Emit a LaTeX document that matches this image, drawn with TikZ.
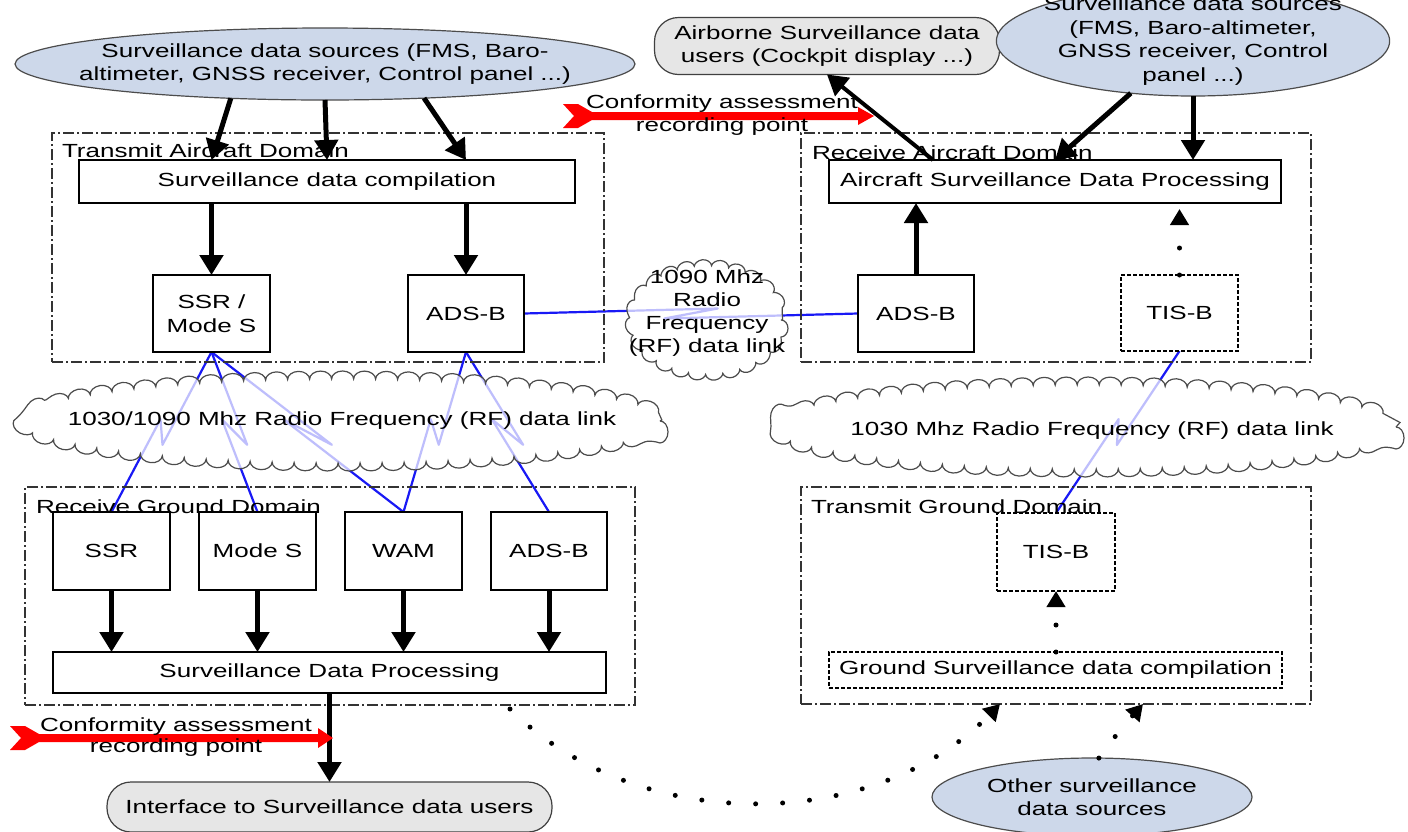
\documentclass[tikz,border=0pt]{standalone}
\usepackage{fontspec}
\setmainfont{Liberation Sans}[FakeStretch=1.37]
\usepackage{xcolor}
\usetikzlibrary{arrows.meta,shapes,calc,positioning,decorations.pathmorphing}
\definecolor{srcblue}{RGB}{205,216,234}
\definecolor{usergray}{RGB}{230,230,230}
\definecolor{rfblue}{RGB}{25,25,245}
\definecolor{confred}{RGB}{255,0,0}
\pgfdeclarelayer{bg}
\pgfsetlayers{bg,main}

\begin{document}
\begin{tikzpicture}[x=1pt, y=-1pt]
		\tikzstyle{every node}=[font=\fontsize{19}{23.5}\selectfont, inner sep=0pt, outer sep=0pt]
		\tikzstyle{blk}=[draw, line width=1.5pt, fill=white, align=center, minimum width=117pt, minimum height=77pt]
		\tikzstyle{dashblk}=[blk, dash pattern=on 4pt off 2pt]
		\tikzstyle{domainbox}=[draw=black!80, line width=1.5pt, dash pattern=on 11pt off 3pt on 2pt off 3pt]
		\tikzstyle{srcell}=[ellipse, draw=black!70, line width=1.2pt, fill=srcblue, align=center]
		\tikzstyle{usrbox}=[draw=black!75, line width=1.2pt, fill=usergray, rounded corners=24pt, align=center]
		\tikzstyle{rfcloud}=[draw=black!70, line width=1.2pt, fill=white, fill opacity=.72, decorate, decoration={bumps, segment length=44pt, amplitude=8pt}]
		\tikzstyle{rfline}=[draw=rfblue, line width=2.2pt, line join=round]
		\tikzstyle{bigarrow}=[line width=5pt, -{Triangle[width=23pt,length=20pt]}]
		\tikzstyle{dotarrow}=[line width=5pt, line cap=round, dash pattern=on 0pt off 27pt, -{Triangle[width=18pt,length=16pt]}]
		\clip (0,0) rectangle (1408,831);
		% sources and users
		\node [srcell, minimum width=620pt, minimum height=72pt, inner xsep=-28pt] (srcL) at (325,64) {Surveillance data sources (FMS, Baro-\\altimeter, GNSS receiver, Control panel ...)};
		\node [usrbox, minimum width=345pt, minimum height=57pt] (users) at (827,46) {Airborne Surveillance data\\users (Cockpit display ...)};
		\node [srcell, minimum width=385pt, minimum height=110pt, inner xsep=-10pt, inner ysep=-7pt] (srcR) at (1193,41) {Surveillance data sources\\(FMS, Baro-altimeter,\\GNSS receiver, Control\\panel ...)};
		% domains
		\node [domainbox, minimum width=552pt, minimum height=229pt] (txAir) at (328,247.5) {};
		\node [anchor=west] (txAirLbl) at (62,151) {Transmit Aircraft Domain};
		\node [domainbox, minimum width=510pt, minimum height=229pt] (rxAir) at (1056,247.5) {};
		\node [anchor=west] (rxAirLbl) at (812,153) {Receive Aircraft Domain};
		\node [domainbox, minimum width=610pt, minimum height=218pt] (rxGnd) at (330,596) {};
		\node [anchor=west] (rxGndLbl) at (36,507) {Receive Ground Domain};
		\node [domainbox, minimum width=510pt, minimum height=217pt] (txGnd) at (1056,595.5) {};
		\node [anchor=west] (txGndLbl) at (811,507) {Transmit Ground Domain};
		% transmit aircraft
		\node [blk, minimum width=496pt, minimum height=43pt] (comp) at (327,181.5) {Surveillance data compilation};
		\node [blk] (ssrA) at (211.5,313.5) {SSR /\\Mode S};
		\node [blk, minimum width=116pt] (adsA) at (466,313.5) {ADS-B};
		% receive aircraft
		\node [blk, minimum width=452pt, minimum height=43pt] (asdp) at (1055,181.5) {Aircraft Surveillance Data Processing};
		\node [blk, minimum width=116pt] (adsR) at (916,313.5) {ADS-B};
		\node [dashblk, minimum height=76pt] (tisR) at (1179.5,313) {TIS-B};
		% receive ground
		\node [blk, minimum height=78pt] (ssrG) at (111.5,551) {SSR};
		\node [blk, minimum height=78pt, right=29pt of ssrG] (modeS) {Mode S};
		\node [blk, minimum height=78pt, right=29pt of modeS] (wam) {WAM};
		\node [blk, minimum height=78pt, minimum width=116pt, right=29pt of wam] (adsG) {ADS-B};
		\node [blk, minimum width=553pt, minimum height=41pt] (sdp) at (329.5,672.5) {Surveillance Data Processing};
		% transmit ground
		\node [dashblk, minimum width=118pt, minimum height=78pt] (tisG) at (1056,552) {TIS-B};
		\node [dashblk, minimum width=453pt, minimum height=36pt] (gsdc) at (1055.5,670) {Ground Surveillance data compilation};
		\node [usrbox, minimum width=445pt, minimum height=50pt] (iface) at (329.5,807) {Interface to Surveillance data users};
		\node [srcell, minimum width=320pt, minimum height=78pt] (other) at (1092,797) {Other surveillance\\data sources};
		% radio links
		\draw [rfcloud] (342,421) ellipse [x radius=318, y radius=42];
		\node (rfL) at (342,421) {1030/1090 Mhz Radio Frequency (RF) data link};
		\draw [rfcloud, decoration={segment length=34pt, amplitude=7pt}] (707,320) ellipse [x radius=74, y radius=53];
		\node [align=center, font=\fontsize{19}{23}\selectfont] (rfM) at (707,313) {1090 Mhz\\Radio\\Frequency\\(RF) data link};
		\draw [rfcloud] (1086,427) ellipse [x radius=310, y radius=42];
		\node (rfR) at (1092,431) {1030 Mhz Radio Frequency (RF) data link};
		\begin{pgfonlayer}{bg}
		\fill [white] (0,0) rectangle (1408,831);
		\draw [rfline] (ssrA.south) -- ($(ssrA.south)!.58!(ssrG.north)+(9,0)$) -- ($(ssrA.south)!.42!(ssrG.north)+(-9,0)$) -- (ssrG.north);
		\draw [rfline] (ssrA.south) -- ($(ssrA.south)!.58!(modeS.north)+(9,0)$) -- ($(ssrA.south)!.42!(modeS.north)+(-9,0)$) -- (modeS.north);
		\draw [rfline] (ssrA.south) -- ($(ssrA.south)!.58!(wam.north)+(9,0)$) -- ($(ssrA.south)!.42!(wam.north)+(-9,0)$) -- (wam.north);
		\draw [rfline] (adsA.south) -- ($(adsA.south)!.58!(wam.north)+(9,0)$) -- ($(adsA.south)!.42!(wam.north)+(-9,0)$) -- (wam.north);
		\draw [rfline] (adsA.south) -- ($(adsA.south)!.58!(adsG.north)+(9,0)$) -- ($(adsA.south)!.42!(adsG.north)+(-9,0)$) -- (adsG.north);
		\draw [rfline] (tisR.south) -- ($(tisR.south)!.58!(tisG.north)+(9,0)$) -- ($(tisR.south)!.42!(tisG.north)+(-9,0)$) -- (tisG.north);
		\draw [rfline] (adsA.east) -- ($(adsA.east)!.58!(adsR.west)+(0,-5)$) -- ($(adsA.east)!.42!(adsR.west)+(0,5)$) -- (adsR.west);
		\end{pgfonlayer}
		% data flow
		\draw [bigarrow] (srcL.200) -- (comp.north -| ssrA.north);
		\draw [bigarrow] (srcL.south) -- (comp.north);
		\draw [bigarrow] (srcL.341) -- (comp.north -| adsA.north);
		\draw [bigarrow] (comp.south -| ssrA.north) -- (ssrA.north);
		\draw [bigarrow] (comp.south -| adsA.north) -- (adsA.north);
		\draw [bigarrow] (adsR.north) -- (asdp.south -| adsR.north);
		\draw [bigarrow, line width=4pt] (asdp.170) -- (users.south);
		\draw [bigarrow] (srcR.220) -- (asdp.north);
		\draw [bigarrow] (srcR.south) -- (asdp.north -| srcR.south);
		\draw [dotarrow, shorten >=6pt] (tisR.north) -- (asdp.south -| tisR.north);
		\foreach \g in {ssrG, modeS, wam, adsG}
			\draw [bigarrow] (\g.south) -- (sdp.north -| \g.south);
		\draw [bigarrow] (sdp.south) -- (iface.north);
		\draw [dotarrow] (gsdc.north -| tisG.south) -- (tisG.south);
		\coordinate (dotStart) at (510,709);
		\draw [dotarrow] (dotStart) .. controls (637,835) and (873,834) .. ($(txGnd.south west)+(199,0)$);
		\draw [dotarrow] (other.80) .. controls (1120,730) .. ($(txGnd.south west)+(342,0)$);
		% conformity assessment points
		\fill [confred] (563,104) -- (578,104) -- (592,112) -- (858,112) -- (858,107) -- (874,116) -- (858,125) -- (858,120) -- (592,120) -- (578,128) -- (563,128) -- (574,116) -- cycle;
		\node [align=center, font=\fontsize{19}{23}\selectfont] (confTop) at (722,115) {Conformity assessment\\recording point};
		\fill [confred] (10,726) -- (25,726) -- (39,734) -- (318,734) -- (318,728) -- (333,738) -- (318,748) -- (318,742) -- (39,742) -- (25,750) -- (10,750) -- (21,738) -- cycle;
		\node [align=center, font=\fontsize{19}{21.5}\selectfont] (confBot) at (176,737) {Conformity assessment\\recording point};
\end{tikzpicture}
\end{document}
